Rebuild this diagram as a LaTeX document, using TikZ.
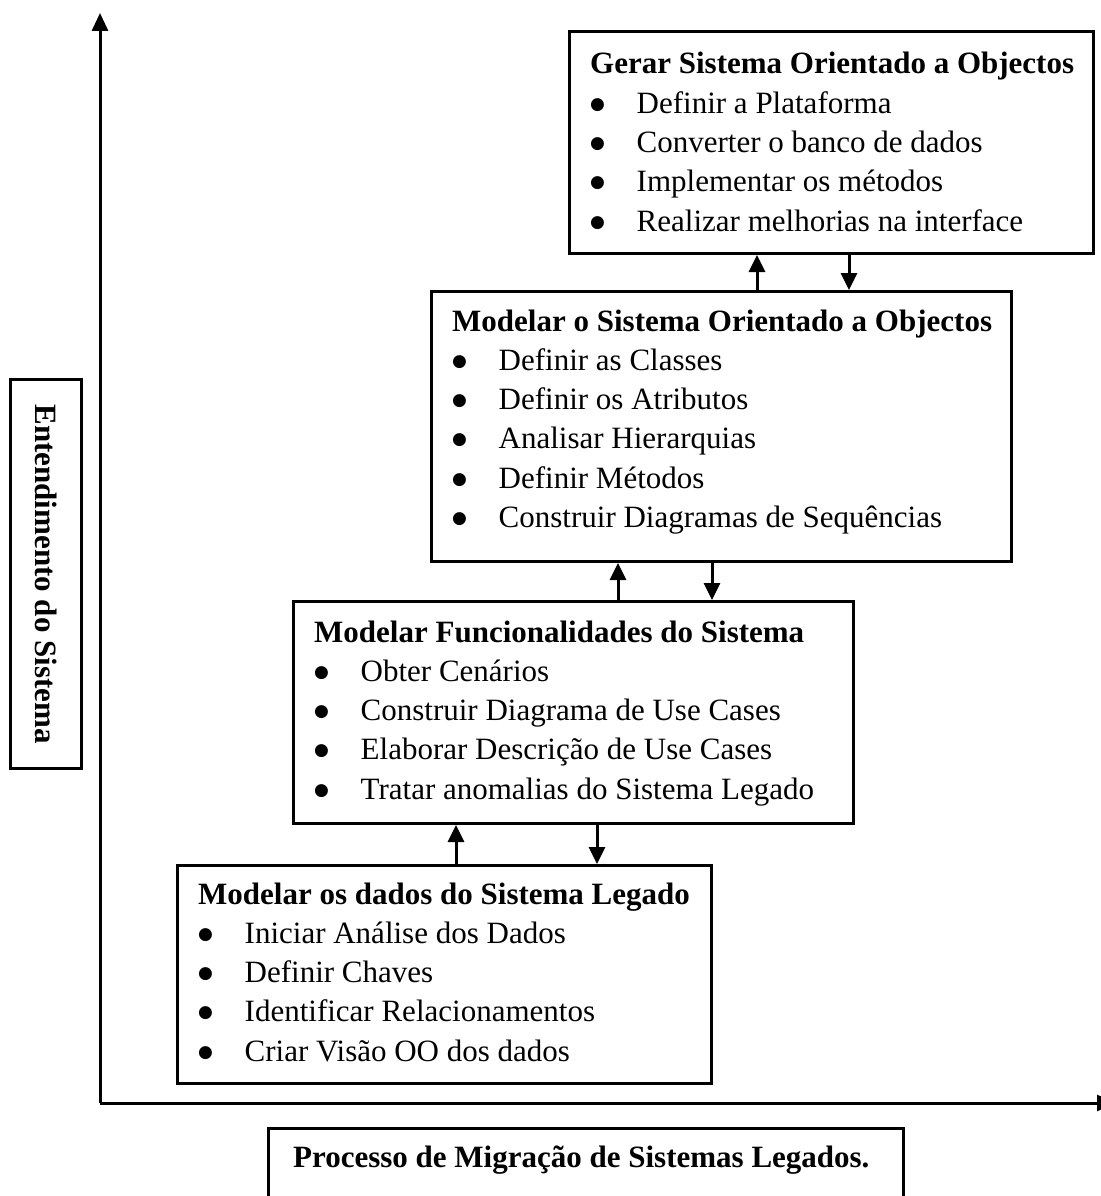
\documentclass[tikz,border=0pt]{standalone}
\usepackage{fontspec}
\setmainfont{Liberation Serif}
\newfontfamily\bulfont{DejaVu Sans}
\usetikzlibrary{arrows.meta}
\newcommand\itm{\makebox[46.5pt][l]{\raisebox{4pt}{\bulfont\fontsize{17}{17}\selectfont ●}}}
\begin{document}
\begin{tikzpicture}[x=1pt,y=-1pt,
  boxframe/.style={draw=black,line width=3pt,rectangle,inner sep=0pt,anchor=north west},
  txt/.style={inner sep=0pt,anchor=base west,font=\fontsize{31}{39.3}\selectfont},
  conn/.style={line width=3pt,-{Triangle[width=16pt,length=17pt]}},
  axis/.style={line width=3pt,-{Triangle[width=16pt,length=18pt]}}]
\useasboundingbox (0,0) rectangle (1100,1196);
% boxes
\node[boxframe,minimum width=524pt,minimum height=222pt] (b1) at (568,30) {};
\node[boxframe,minimum width=580pt,minimum height=270pt] (b2) at (430,290) {};
\node[boxframe,minimum width=560pt,minimum height=222pt] (b3) at (292,600) {};
\node[boxframe,minimum width=534pt,minimum height=218pt] (b4) at (176,864) {};
\node[boxframe,minimum width=635pt,minimum height=120pt] (b5) at (267,1127) {};
\node[boxframe,minimum width=71pt,minimum height=389pt] (lab) at (9,378) {};
% texts
\node[txt] (t1) at (590,74) {\begin{tabular}[t]{@{}l@{}}\textbf{Gerar Sistema Orientado a Objectos}\\
\itm Definir a Plataforma\\
\itm Converter o banco de dados\\
\itm Implementar os métodos\\
\itm Realizar melhorias na interface\end{tabular}};
\node[txt] (t2) at (452,331) {\begin{tabular}[t]{@{}l@{}}\textbf{Modelar o Sistema Orientado a Objectos}\\
\itm Definir as Classes\\
\itm Definir os Atributos\\
\itm Analisar Hierarquias\\
\itm Definir Métodos\\
\itm Construir Diagramas de Sequências\end{tabular}};
\node[txt] (t3) at (314,642) {\begin{tabular}[t]{@{}l@{}}\textbf{Modelar Funcionalidades do Sistema}\\
\itm Obter Cenários\\
\itm Construir Diagrama de Use Cases\\
\itm Elaborar Descrição de Use Cases\\
\itm Tratar anomalias do Sistema Legado\end{tabular}};
\node[txt] (t4) at (198,904) {\begin{tabular}[t]{@{}l@{}}\textbf{Modelar os dados do Sistema Legado}\\
\itm Iniciar Análise dos Dados\\
\itm Definir Chaves\\
\itm Identificar Relacionamentos\\
\itm Criar Visão OO dos dados\end{tabular}};
\node[txt,font=\fontsize{31}{39.3}\selectfont\bfseries] (t5) at (293,1167) {Processo de Migração de Sistemas Legados.};
\node[inner sep=0pt,rotate=-90,font=\fontsize{31}{39.3}\selectfont\bfseries] (lt) at (lab.center) {Entendimento do Sistema};
% connectors
\coordinate (c1) at (757,0);
\coordinate (c2) at (849,0);
\coordinate (c3) at (618,0);
\coordinate (c4) at (712,0);
\coordinate (c5) at (456,0);
\coordinate (c6) at (597,0);
\draw[conn] (c1 |- b2.north) -- (c1 |- b1.south);
\draw[conn] (c2 |- b1.south) -- (c2 |- b2.north);
\draw[conn] (c3 |- b3.north) -- (c3 |- b2.south);
\draw[conn] (c4 |- b2.south) -- (c4 |- b3.north);
\draw[conn] (c5 |- b4.north) -- (c5 |- b3.south);
\draw[conn] (c6 |- b3.south) -- (c6 |- b4.north);
% axes
\coordinate (O) at (100,1103);
\coordinate (ytop) at (100,13);
\coordinate (xend) at (1115,1103);
\draw[axis] (O) -- (ytop);
\draw[axis] (O) -- (xend);
\end{tikzpicture}
\end{document}
